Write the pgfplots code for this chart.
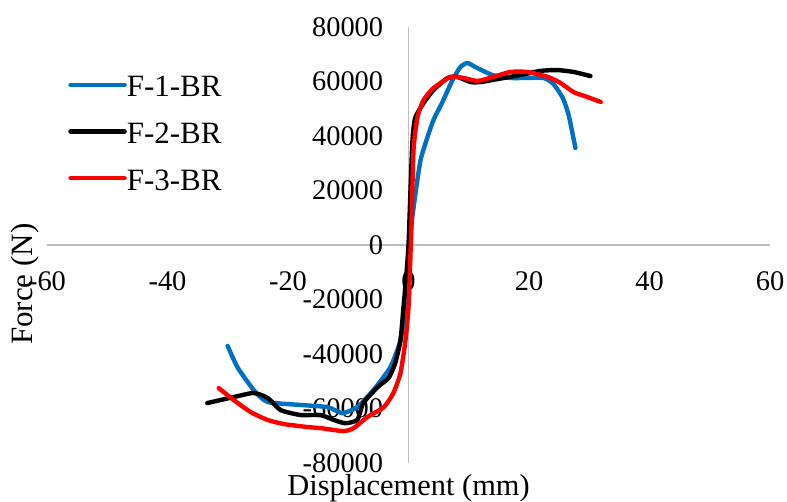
\documentclass[border=0pt]{standalone}
\usepackage{pgfplots}
\pgfplotsset{compat=1.18}
\usepackage{fontspec}
\setmainfont{Liberation Serif}
\definecolor{seriesblue}{HTML}{0070C0}
\definecolor{seriesred}{HTML}{FF0000}
\definecolor{axisgray}{HTML}{BFBFBF}
\begin{document}
\begin{tikzpicture}
\begin{axis}[
  name=ax,
  scale only axis,
  width=361.5pt, height=218pt,
  xmin=-60, xmax=60, ymin=-80000, ymax=80000,
  axis lines=middle,
  axis line style={draw=axisgray, line width=0.75pt, -},
  xtick={-60,-40,...,60},
  ytick={-80000,-60000,...,80000},
  major tick length=0pt,
  hide obscured x ticks=false,
  hide obscured y ticks=false,
  scaled y ticks=false,
  yticklabel style={/pgf/number format/.cd, fixed, 1000 sep={}, /tikz/.cd,
    anchor=east, inner sep=0pt, xshift=-12.5pt},
  xticklabel style={anchor=base, inner sep=0pt, yshift=-22.5pt},
  tick label style={font=\fontsize{14.2}{17}\selectfont},
  /pgf/number format/assume math mode=true,
  every axis x label/.style={at={(rel axis cs:0.5,0)}, anchor=north, inner sep=0pt, yshift=-5.5pt,
    font=\fontsize{15.2}{18}\selectfont},
  every axis y label/.style={at={(rel axis cs:-0.030,0.41)}, anchor=center, rotate=90, inner sep=0pt,
    font=\fontsize{15.5}{18}\selectfont},
  xlabel={Displacement (mm)},
  ylabel={Force (N)},
  legend style={at={(rel axis cs:0.029,0.888)}, anchor=north west, draw=none, fill=none,
    font=\fontsize{15.5}{18}\selectfont, inner sep=0pt, row sep=13pt,
    nodes={inner sep=0pt, text height=10.3pt, text depth=0pt}},
  legend cell align=left,
  legend image code/.code={\draw[#1] (0pt,0.8pt) -- (27pt,0.8pt);},
  every axis plot/.append style={line width=2.2pt, line cap=round, line join=round, smooth, tension=0.35},
]
\addplot[seriesblue] coordinates {
  (-30.0,-37100) (-28.4,-44800) (-25.7,-53200) (-23.4,-57600) (-17.9,-58700)
  (-13.4,-59500) (-11.0,-61700) (-8.5,-59500) (-5.8,-53200) (-3.0,-44800)
  (-1.33,-34900) (-0.5,-22800) (-0.17,-10300) (0.17,1800) (1.16,19000)
  (2.0,31200) (3.15,39600) (4.15,45900) (5.64,52500) (7.3,60500)
  (8.6,65300) (9.8,66800) (11.1,65300) (13.9,62400) (16.9,61300)
  (19.4,61300) (22.4,61300) (24.0,59200) (25.6,54000) (26.6,47500) (27.7,35600)
};
\addplot[black] coordinates {
  (-33.4,-58000) (-29.0,-55800) (-25.7,-54300) (-23.4,-56100) (-21.2,-60600)
  (-17.9,-62400) (-14.6,-62400) (-12.4,-64200) (-10.5,-65400) (-8.5,-64200)
  (-7.5,-58000) (-5.1,-52100) (-3.3,-48800) (-2.2,-43300) (-1.33,-34900)
  (-0.83,-22800) (-0.33,-10300) (0,0) (0.33,20200) (0.66,38500)
  (1.1,46600) (2.5,52100) (4.15,56900) (6.5,61300)
  (8.1,61700) (10.3,59800) (12.0,59800) (14.8,60900) (18.6,62400)
  (21.9,63900) (24.7,64200) (27.4,63500) (30.2,62000)
};
\addplot[seriesred] coordinates {
  (-31.5,-52500) (-29.0,-56900) (-26.2,-61300) (-23.4,-64200) (-20.7,-65700)
  (-16.8,-66800) (-14.6,-67200) (-10.8,-68300) (-9.1,-67200) (-6.8,-63100)
  (-4.1,-59500) (-2.5,-54300) (-1.33,-47000) (-0.5,-34900) (0,-22800)
  (0.25,-8000) (0.5,8000) (0.83,34900) (1.5,47000) (2.5,53200)
  (4.15,57600) (7.0,61700) (9.1,61300) (11.5,60200) (14.1,61700)
  (16.9,63500) (19.75,63500) (23.1,61700) (25.2,59500) (27.4,56100)
  (29.7,54300) (31.9,52500)
};
\legend{F-1-BR,F-2-BR,F-3-BR}
\end{axis}
\pgfresetboundingbox
\path[use as bounding box] ([xshift=-23.5pt,yshift=-19.5pt]ax.south west) rectangle ([xshift=8.5pt,yshift=13.5pt]ax.north east);
\end{tikzpicture}
\end{document}
